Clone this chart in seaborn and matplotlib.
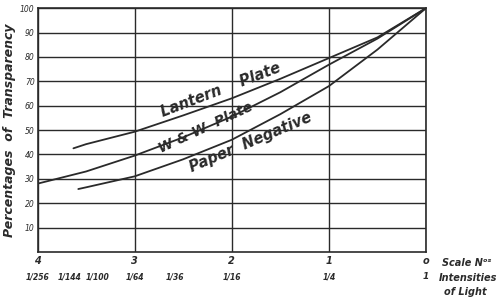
import numpy as np
import pandas as pd
import matplotlib
matplotlib.use("Agg")
import matplotlib.pyplot as plt
import matplotlib.transforms as mtransforms
import seaborn as sns

# ---- data ----
lantern_x = [3.63, 3.5, 3.0, 2.5, 2.0, 1.5, 1.0, 0.5, 0.0]
lantern_y = [42.5, 44.2, 49.3, 56.0, 63.0, 71.0, 79.5, 88.0, 100.0]
ww_x = [4.0, 3.5, 3.0, 2.5, 2.0, 1.5, 1.0, 0.5, 0.0]
ww_y = [28.0, 33.0, 39.5, 47.0, 55.5, 65.5, 76.8, 87.5, 100.0]
paper_x = [3.58, 3.5, 3.0, 2.5, 2.0, 1.5, 1.0, 0.5, 0.0]
paper_y = [25.8, 26.5, 31.0, 38.0, 46.0, 56.5, 68.0, 83.0, 100.0]

scale_numbers = [4, 3, 2, 1, 0]
scale_labels = ["4", "3", "2", "1", "o"]
intensity_labels = ["1/256", "1/144", "1/100", "1/64", "1/36", "1/16", "1/4", "1"]
intensity_at = [4.0, 3.67, 3.38, 3.0, 2.58, 2.0, 1.0, 0.0]
y_ticks = [10, 20, 30, 40, 50, 60, 70, 80, 90, 100]

df = pd.concat([
    pd.DataFrame({"scale": lantern_x, "pct": lantern_y, "plate": "Lantern Plate"}),
    pd.DataFrame({"scale": ww_x, "pct": ww_y, "plate": "W & W Plate"}),
    pd.DataFrame({"scale": paper_x, "pct": paper_y, "plate": "Paper Negative"}),
])

sns.set_theme(style="white")
plt.rcParams["font.family"] = ["DejaVu Sans"]
ink = "#2a2a2a"

fig = plt.figure(figsize=(5.0, 3.01), dpi=100)
ax = fig.add_axes([0.075, 0.163, 0.777, 0.81])

sns.lineplot(data=df, x="scale", y="pct", hue="plate", units="plate",
             estimator=None, sort=False, palette=[ink, ink, ink],
             linewidth=1.3, legend=False, ax=ax)

ax.set_xlim(4, 0)
ax.set_ylim(0, 100)
ax.set_xticks(scale_numbers)
ax.set_xticklabels(scale_labels, fontsize=7,
                   fontstyle="italic", fontweight="bold", color=ink)
ax.set_yticks(y_ticks)
ax.set_yticklabels([str(v) for v in y_ticks], fontsize=5.5,
                   fontstyle="italic", color=ink)
ax.tick_params(axis="both", length=0, pad=3)
ax.tick_params(axis="y", pad=2)
ax.set_xlabel("")
ax.set_ylabel("Percentages  of  Transparency", fontsize=9, fontstyle="italic",
              fontweight="bold", color=ink, labelpad=3)
ax.grid(True, color=ink, linewidth=1.0)
for sp in ax.spines.values():
    sp.set_color(ink)
    sp.set_linewidth(1.2)

# intensity fractions under the scale numbers
trans = mtransforms.blended_transform_factory(ax.transData, ax.transAxes)
for pos, lab in zip(intensity_at, intensity_labels):
    ax.text(pos, -0.102, lab, transform=trans, ha="center",
            va="center", fontsize=5.5 if lab != "1" else 6.5,
            fontstyle="italic", fontweight="bold", color=ink)

fig.text(0.885, 0.126, "Scale Nᵒˢ", fontsize=7, fontstyle="italic",
         fontweight="bold", color=ink, va="center", ha="left")
fig.text(0.878, 0.076, "Intensities", fontsize=7, fontstyle="italic",
         fontweight="bold", color=ink, va="center", ha="left")
fig.text(0.888, 0.030, "of Light", fontsize=7, fontstyle="italic",
         fontweight="bold", color=ink, va="center", ha="left")

# curve labels
lab_kw = dict(fontstyle="italic", fontweight="bold", color=ink,
              ha="center", va="center", rotation_mode="anchor")
ax.text(2.11, 66.5, "Lantern    Plate", rotation=21, fontsize=10.5, **lab_kw)
ax.text(2.27, 50.8, "W & W  Plate", rotation=25, fontsize=10, **lab_kw)
ax.text(1.81, 45.0, "Paper  Negative", rotation=23, fontsize=10.5, **lab_kw)

fig.savefig("out.png", dpi=100, facecolor="white")
